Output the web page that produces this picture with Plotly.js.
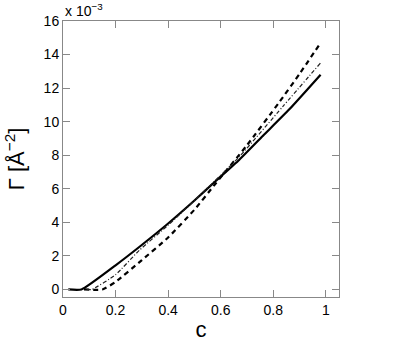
<!DOCTYPE html>
<html>
<head>
<meta charset="utf-8">
<script src="https://cdn.plot.ly/plotly-3.0.1.min.js"></script>
<style>html,body{margin:0;padding:0;background:#fff;}#chart{width:412px;height:343px;}</style>
</head>
<body>
<div id="chart"></div>
<script>
// concentration c
const cSolid = [0.02, 0.07, 0.2, 0.29, 0.4, 0.5, 0.58, 0.67, 0.76, 0.86, 0.98];
const gSolid = [0, 0, 1.44, 2.53, 3.93, 5.3, 6.45, 7.72, 9.15, 10.72, 12.8];   // Γ ×10^-3

const cDash = [0.08, 0.15, 0.2, 0.3, 0.4, 0.5, 0.58, 0.7, 0.82, 0.9, 0.98];
const gDash = [0, 0, 0.45, 1.75, 3.1, 4.75, 6.3, 8.6, 11.1, 12.85, 14.7];

const cDot = [0.09, 0.11, 0.2, 0.29, 0.4, 0.5, 0.67, 0.836, 0.98];
const gDot = [0, 0, 0.88, 2.33, 3.83, 5.3, 7.9, 10.9, 13.5];

const yTicks = [0, 2, 4, 6, 8, 10, 12, 14, 16];
const xTicks = [0, 0.2, 0.4, 0.6, 0.8, 1];
const xTickText = ['0', '0.2', '0.4', '0.6', '0.8', '1'];

const FONT = 'Liberation Sans, Arial, sans-serif';

const traces = [
  {x: cSolid, y: gSolid, mode: 'lines', line: {color: '#000', width: 2.2, shape: 'spline', smoothing: 0.5}},
  {x: cDash, y: gDash, mode: 'lines', line: {color: '#000', width: 2.2, dash: '5px,4px', shape: 'spline', smoothing: 0.5}},
  {x: cDot, y: gDot, mode: 'lines', line: {color: '#222', width: 1.2, dash: '4px,2px,1px,2px', shape: 'spline', smoothing: 0.5}}
];

const axisCommon = {
  showgrid: false, zeroline: false, showline: true, linecolor: '#888', linewidth: 1,
  mirror: 'ticks', ticks: 'inside', ticklen: 7, tickcolor: '#888', tickwidth: 1,
  tickfont: {family: FONT, size: 14, color: '#000'}
};

const layout = {
  width: 412, height: 343,
  margin: {l: 63, r: 73, t: 21, b: 46},
  paper_bgcolor: '#fff', plot_bgcolor: '#fff',
  showlegend: false,
  xaxis: Object.assign({}, axisCommon, {
    range: [0, 1.05], tickvals: xTicks, ticktext: xTickText,
    title: {text: 'c', font: {family: FONT, size: 22, color: '#000'}, standoff: 4}
  }),
  yaxis: Object.assign({}, axisCommon, {
    range: [-0.45, 16], tickvals: yTicks,
    title: {text: 'Γ [Å<sup>−2</sup>]', font: {family: FONT, size: 22, color: '#000'}, standoff: 12}
  }),
  annotations: [{
    xref: 'paper', yref: 'paper', x: 0, y: 1, xanchor: 'left', yanchor: 'bottom',
    showarrow: false, text: 'x 10<sup>−3</sup>',
    font: {family: FONT, size: 14, color: '#000'}
  }]
};

Plotly.newPlot('chart', traces, layout, {displayModeBar: false, staticPlot: true});
</script>
</body>
</html>
